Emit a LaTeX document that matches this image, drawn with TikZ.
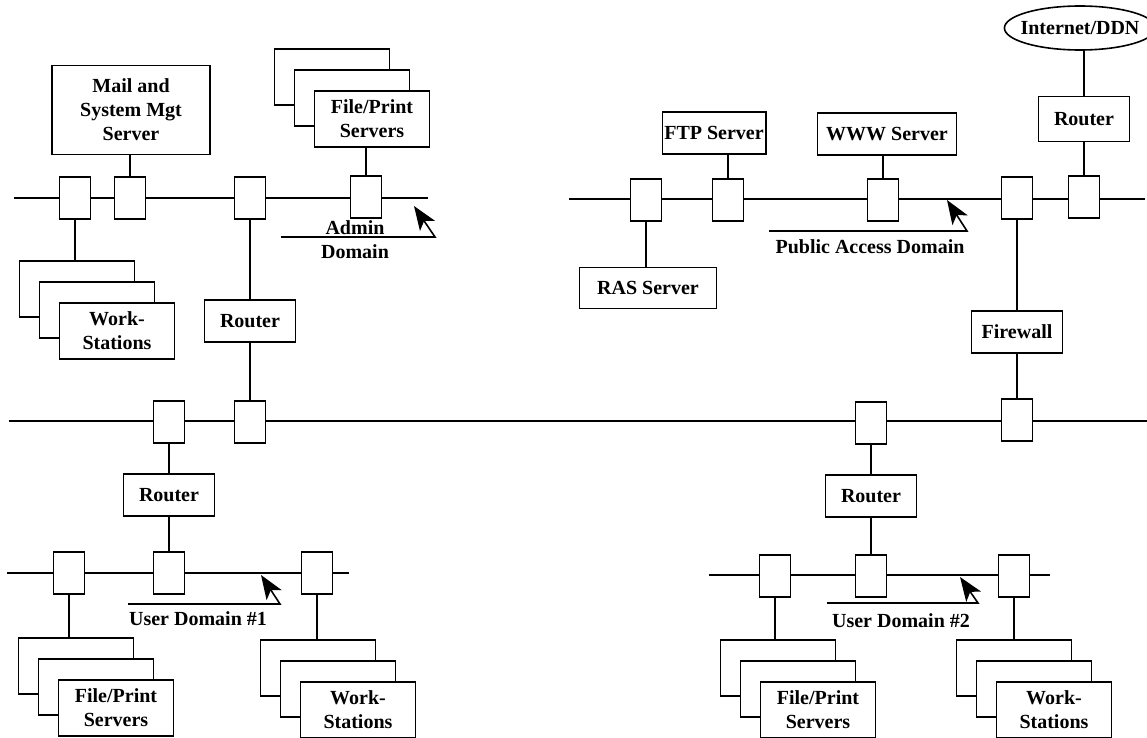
\documentclass[tikz,border=0pt]{standalone}
\usepackage{fontspec}
\setmainfont{Liberation Serif}
\usepackage{tikz}
\usetikzlibrary{arrows.meta,positioning,shapes.geometric}

\tikzset{
  tap/.style={draw, fill=white, minimum width=15.5pt, minimum height=21pt, inner sep=0pt},
  box/.style={draw, fill=white, inner sep=1pt, align=center},
  stackbox/.style={box, minimum width=57.5pt, minimum height=28pt},
  routerbox/.style={box, minimum width=45.5pt, minimum height=21pt},
  pointer/.style={-{Stealth[length=12pt,width=9pt,inset=3pt]}},
}

\begin{document}
\begin{tikzpicture}[x=0.5pt, y=-0.5pt, line width=0.8pt,
    font=\fontsize{10}{12}\selectfont\bfseries]

\useasboundingbox (0,0) rectangle (1147,738);

  % Define end points of the LAN segments
\coordinate (a0) at (14,198); \coordinate (a9) at (428,198); \coordinate (p0) at (569,199); \coordinate (p9) at (1145,199); \coordinate (b0) at (9,421); \coordinate (b9) at (1147,421); \coordinate (u0) at (7,573); \coordinate (u9) at (349,573); \coordinate (v0) at (709,575); \coordinate (v9) at (1050,575);

  % Draw the LAN segments
\draw (a0) -- (a9); \draw (p0) -- (p9); \draw (b0) -- (b9); \draw (u0) -- (u9); \draw (v0) -- (v9);

  % Define taps on the LAN segments
\node[tap] (ta1) at (75,198) {}; \node[tap] (ta2) at (130,198) {}; \node[tap] (ta3) at (250,198) {}; \node[tap] (ta4) at (366,197) {};
\node[tap] (tp1) at (646,200) {}; \node[tap] (tp2) at (728,200) {}; \node[tap] (tp3) at (883,200) {}; \node[tap] (tp4) at (1017,198) {}; \node[tap] (tp5) at (1084,197) {};
\node[tap] (tb1) at (169,422) {}; \node[tap] (tb2) at (250,422) {}; \node[tap] (tb3) at (871,423) {}; \node[tap] (tb4) at (1017,420) {};
\node[tap] (tu1) at (69,573) {}; \node[tap] (tu2) at (169,573) {}; \node[tap] (tu3) at (317,573) {};
\node[tap] (tv1) at (775,576) {}; \node[tap] (tv2) at (871,576) {}; \node[tap] (tv3) at (1014,576) {};

  % Define servers, routers and the firewall
\node[box, minimum width=79pt, minimum height=44.5pt] (mail) at (131,110) {Mail and\\System Mgt\\Server};
\node[box, minimum width=51pt, minimum height=21pt] (ftp) at (714,133) {FTP Server}; \node[box, minimum width=69.5pt, minimum height=21pt] (www) at (887,134) {WWW Server}; \node[box, minimum width=68.5pt, minimum height=20.5pt] (ras) at (648,288) {RAS Server};
\node[routerbox] (ra) at (250,321) {Router}; \node[routerbox] (r1) at (169,495) {Router}; \node[routerbox] (r2) at (871,496) {Router}; \node[routerbox, minimum height=22.5pt] (rt) at (1084,119) {Router}; \node[routerbox] (fw) at (1017,332) {Firewall};
\node[draw, ellipse, minimum width=72pt, minimum height=22pt, inner ysep=0pt, inner xsep=-3pt] (net) at (1080,28) {Internet/DDN};

  % Define stacked servers and workstations
\node[stackbox] (fpA3) at (332,77) {}; \node[stackbox] (fpA2) at (352,98) {}; \node[stackbox] (fpA1) at (372,119) {File/Print\\Servers};
\node[stackbox] (wsA3) at (77,289) {}; \node[stackbox] (wsA2) at (97,310) {}; \node[stackbox] (wsA1) at (117,331) {Work-\\Stations};
\node[stackbox] (fpU3) at (76,666) {}; \node[stackbox] (fpU2) at (96,687) {}; \node[stackbox] (fpU1) at (116,708) {File/Print\\Servers};
\node[stackbox] (wsU3) at (318,668) {}; \node[stackbox] (wsU2) at (338,689) {}; \node[stackbox] (wsU1) at (358,710) {Work-\\Stations};
\node[stackbox] (fpV3) at (778,668) {}; \node[stackbox] (fpV2) at (798,689) {}; \node[stackbox] (fpV1) at (818,710) {File/Print\\Servers};
\node[stackbox] (wsV3) at (1014,668) {}; \node[stackbox] (wsV2) at (1034,689) {}; \node[stackbox] (wsV1) at (1054,710) {Work-\\Stations};

  % Draw drops from taps
\draw (ta2) -- (ta2 |- mail.south); \draw (ta4) -- (ta4 |- fpA1.south); \draw (ta1) -- (ta1 |- wsA3.north); \draw (ta3) -- (ra); \draw (ra) -- (tb2);
\draw (tp2) -- (tp2 |- ftp.south); \draw (tp3) -- (tp3 |- www.south); \draw (tp1) -- (tp1 |- ras.north); \draw (tp5) -- (rt); \draw (rt) -- (rt |- net.south); \draw (tp4) -- (fw); \draw (fw) -- (tb4);
\draw (tb1) -- (r1); \draw (r1) -- (tu2); \draw (tu1) -- (tu1 |- fpU3.north); \draw (tu3) -- (tu3 |- wsU3.north);
\draw (tb3) -- (r2); \draw (r2) -- (tv2); \draw (tv1) -- (tv1 |- fpV3.north); \draw (tv3) -- (tv3 |- wsV3.north);

  % Domain labels with pointers
\node[align=center] (admlbl) at (355,240) {Admin\\Domain}; \coordinate (admlead) at (281,237); \coordinate (admtail) at (435,237); \coordinate (admtip) at (414,206);
\node (publbl) at (870,247) {Public Access Domain}; \coordinate (publead) at (769,231); \coordinate (pubtail) at (967,231); \coordinate (pubtip) at (947,200);
\node (ud1lbl) at (198,619) {User Domain \#1}; \coordinate (ud1lead) at (128,604); \coordinate (ud1tail) at (280,604); \coordinate (ud1tip) at (261,575);
\node (ud2lbl) at (901,621) {User Domain \#2}; \coordinate (ud2lead) at (827,603); \coordinate (ud2tail) at (978,603); \coordinate (ud2tip) at (960,577);
\draw[pointer] (admlead) -- (admtail) -- (admtip); \draw[pointer] (publead) -- (pubtail) -- (pubtip); \draw[pointer] (ud1lead) -- (ud1tail) -- (ud1tip); \draw[pointer] (ud2lead) -- (ud2tail) -- (ud2tip);

\end{tikzpicture}
\end{document}
